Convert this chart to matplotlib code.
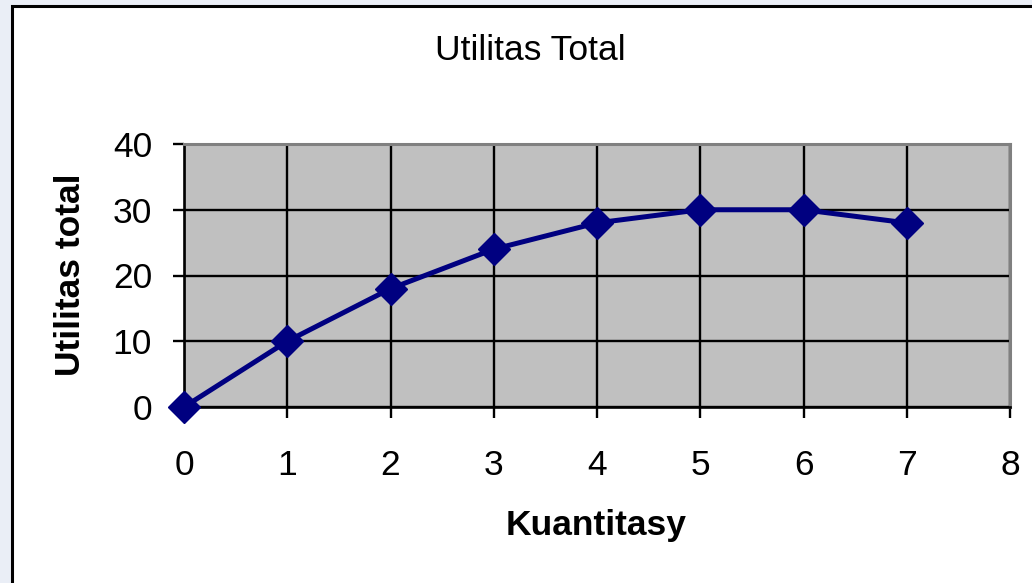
import matplotlib
matplotlib.use("Agg")
import matplotlib.pyplot as plt
from matplotlib.patches import Rectangle

# data
kuantitas = [0, 1, 2, 3, 4, 5, 6, 7]
utilitas_total = [0, 10, 18, 24, 28, 30, 30, 28]
x_ticks = [0, 1, 2, 3, 4, 5, 6, 7, 8]
y_ticks = [0, 10, 20, 30, 40]

plt.rcParams['font.family'] = ['Liberation Sans', 'DejaVu Sans']
W, H = 1032, 583
fig = plt.figure(figsize=(W / 100, H / 100), dpi=100, facecolor='#EAEEF6')

# white chart box with black frame, kept behind the axes
fig.patches.append(Rectangle((12 / W, -0.05), 1.1, 1 - 6 / H + 0.05,
                             transform=fig.transFigure, facecolor='white',
                             edgecolor='black', linewidth=2.2, zorder=-10))

ax = fig.add_axes([184 / W, 1 - 407 / H, (1010 - 184) / W, (407 - 144) / H])
ax.set_zorder(1)
ax.set_facecolor('#C0C0C0')
ax.set_xlim(0, 8)
ax.set_ylim(0, 40)
ax.set_xticks(x_ticks)
ax.set_yticks(y_ticks)
ax.grid(True, color='black', linewidth=1.7)
ax.set_axisbelow(True)

for side in ['left', 'bottom']:
    ax.spines[side].set_color('black')
    ax.spines[side].set_linewidth(1.9)
for side in ['top', 'right']:
    ax.spines[side].set_color('#808080')
    ax.spines[side].set_linewidth(2.2)

ax.tick_params(axis='both', direction='out', length=8, width=1.7,
               labelsize=25.5, colors='black')
ax.tick_params(axis='x', pad=22)
ax.tick_params(axis='y', pad=15)

ax.plot(kuantitas, utilitas_total, color='#000080', linewidth=3.6,
        marker='D', markersize=16, markeredgewidth=1, clip_on=False, zorder=5)

fig.text(530 / W, 1 - 51 / H, 'Utilitas Total', fontsize=25.5,
         ha='center', va='center')
fig.text(596 / W, 1 - 525 / H, 'Kuantitasy', fontsize=25.5,
         fontweight='bold', ha='center', va='center')
fig.text(70 / W, 1 - 275 / H, 'Utilitas total', fontsize=25.5,
         fontweight='bold', rotation=90, ha='center', va='center')

fig.savefig('out.png', dpi=100, facecolor=fig.get_facecolor())
